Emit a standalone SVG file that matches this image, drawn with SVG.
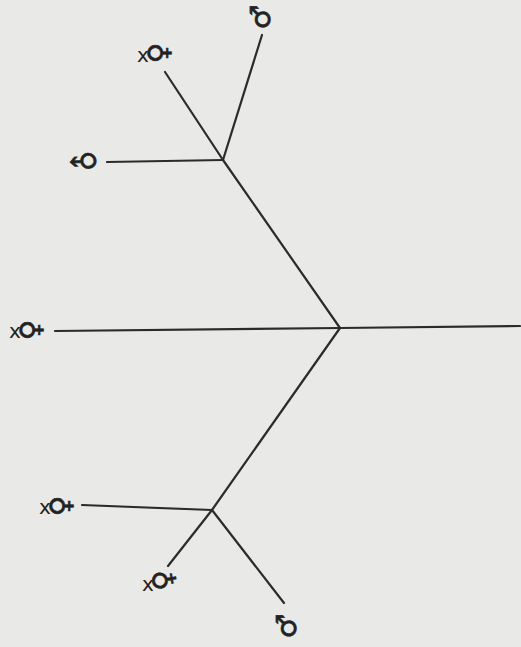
<svg xmlns="http://www.w3.org/2000/svg" width="521" height="647" viewBox="0 0 521 647">
<style>
.bg{fill:#e9e9e7}
.ln{fill:none;stroke:#2b2b2b;stroke-width:2.2;stroke-linecap:round;stroke-linejoin:round}
.sym{font-family:"DejaVu Sans",sans-serif;font-size:28px;fill:#222;stroke:#222;stroke-width:0.6;text-anchor:middle;dominant-baseline:central}
.x{font-family:"DejaVu Sans",sans-serif;font-size:20px;fill:#222;text-anchor:middle;dominant-baseline:central}
</style>
<rect class="bg" x="0" y="0" width="521" height="647"/>
<g id="connectors">
<polyline class="ln" points="55,331 340,328 520,326"/>
<polyline class="ln" points="340,328 223,160 165,72"/>
<line class="ln" x1="223" y1="160" x2="262" y2="35"/>
<line class="ln" x1="223" y1="160" x2="107" y2="162"/>
<polyline class="ln" points="340,328 212,510 168,566"/>
<line class="ln" x1="212" y1="510" x2="82" y2="505"/>
<line class="ln" x1="212" y1="510" x2="284" y2="603"/>
</g>
<g id="male-top"><text class="sym" transform="translate(260,17) rotate(-90)">♂</text></g>
<g id="female-top"><text class="x" x="143" y="55">x</text><text class="sym" transform="translate(158,53) rotate(-90)">♀</text></g>
<g id="male-left"><text class="sym" transform="translate(85,161) rotate(-140)">♂</text></g>
<g id="female-root"><text class="x" x="15" y="331">x</text><text class="sym" transform="translate(30,330) rotate(-90)">♀</text></g>
<g id="female-low"><text class="x" x="45" y="507">x</text><text class="sym" transform="translate(60,506) rotate(-90)">♀</text></g>
<g id="female-bottom"><text class="x" x="148" y="584">x</text><text class="sym" transform="translate(163,580) rotate(-100)">♀</text></g>
<g id="male-bottom"><text class="sym" transform="translate(286,626) rotate(-90)">♂</text></g>
</svg>
